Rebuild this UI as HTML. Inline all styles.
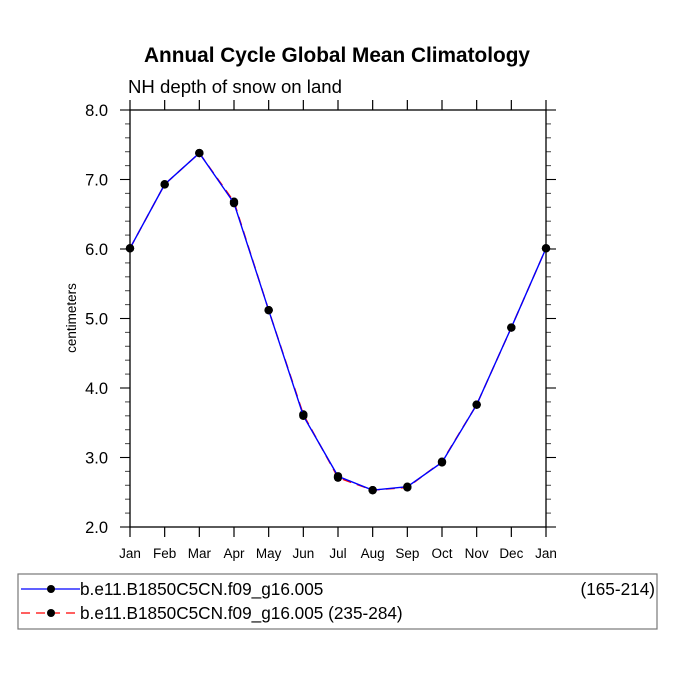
<!DOCTYPE html>
<html><head><meta charset="utf-8"><style>
html,body{margin:0;padding:0;background:#fff;}
svg{display:block;font-family:"Liberation Sans",Arial,sans-serif;}
</style></head><body>
<svg id="c" width="675" height="676" viewBox="0 0 675 676">
<text x="337" y="62" text-anchor="middle" font-size="20.8" font-weight="bold">Annual Cycle Global Mean Climatology</text>
<text x="128" y="93" font-size="18.6">NH depth of snow on land</text>
<text transform="translate(76,318) rotate(-90)" text-anchor="middle" font-size="13.5">centimeters</text>
<g id="ticks"></g>
<g id="series"></g>
<rect x="130" y="110" width="416" height="417" fill="none" stroke="#000" stroke-width="1.3"/>
<g>
<rect x="18" y="574" width="639" height="55" fill="none" stroke="#777" stroke-width="1.2"/>
<line x1="21" y1="589" x2="80" y2="589" stroke="#0000ff" stroke-width="1.3"/>
<circle cx="51" cy="589" r="4" fill="#000"/>
<text x="80" y="595" font-size="17.2">b.e11.B1850C5CN.f09_g16.005</text>
<text x="655" y="595" font-size="17.2" text-anchor="end">(165-214)</text>
<line x1="21" y1="613" x2="80" y2="613" stroke="#ff0000" stroke-width="1.3" stroke-dasharray="9,6"/>
<circle cx="51" cy="613" r="4" fill="#000"/>
<text x="80" y="619" font-size="17.2">b.e11.B1850C5CN.f09_g16.005 (235-284)</text>
</g>
</svg>
<script>
const months=["Jan","Feb","Mar","Apr","May","Jun","Jul","Aug","Sep","Oct","Nov","Dec","Jan"];
const series1=[6.01,6.93,7.38,6.66,5.12,3.60,2.73,2.53,2.58,2.93,3.76,4.87,6.01];
const series2=[6.01,6.93,7.38,6.68,5.12,3.62,2.71,2.53,2.57,2.94,3.76,4.87,6.01];
const yTicks=[2,3,4,5,6,7,8];
const yTickLabels=["2.0","3.0","4.0","5.0","6.0","7.0","8.0"];
const NS="http://www.w3.org/2000/svg";
const xL=130,xR=546,yT=110,yB=527,yMin=2,yMax=8;
const X=i=>xL+(xR-xL)*i/(months.length-1);
const Y=v=>yB-(v-yMin)/(yMax-yMin)*(yB-yT);
function mk(tag,attrs,parent){const e=document.createElementNS(NS,tag);for(const k in attrs)e.setAttribute(k,attrs[k]);parent.appendChild(e);return e;}
const tg=document.getElementById('ticks');
months.forEach((m,i)=>{
  const x=X(i);
  let t=mk('line',{x1:x,y1:yB,x2:x,y2:yB+10,stroke:'#000','stroke-width':1.2},tg);
  
  
  t=mk('line',{x1:x,y1:yT,x2:x,y2:yT-10,stroke:'#000','stroke-width':1.2},tg);
  
  
  const l=mk('text',{x:x,y:558,'text-anchor':'middle','font-size':13.5},tg);
  l.textContent=m;
  
  
});
for(let v=yMin;v<=yMax+1e-9;v+=0.2){
  const y=Y(v);const major=Math.abs(v-Math.round(v))<1e-6;const len=major?10:5;
  let t=mk('line',{x1:xL-len,y1:y,x2:xL,y2:y,stroke:major?'#000':'#555','stroke-width':1.1},tg);
  
  
  t=mk('line',{x1:xR,y1:y,x2:xR+len,y2:y,stroke:major?'#000':'#555','stroke-width':1.1},tg);
  
  
}
yTicks.forEach((v,i)=>{
  const l=mk('text',{x:108,y:Y(v)+6,'text-anchor':'end','font-size':16.5},tg);
  l.textContent=yTickLabels[i];
  
  
});
const sg=document.getElementById('series');
function draw(vals,color,dash,name){
  const p=mk('polyline',{points:vals.map((v,i)=>X(i)+','+Y(v)).join(' '),fill:'none',stroke:color,'stroke-width':1.4},sg);
  if(dash)p.setAttribute('stroke-dasharray',dash);
  
  
  vals.forEach((v,i)=>{
    const c=mk('circle',{cx:X(i),cy:Y(v),r:4.2,fill:'#000'},sg);
    
    
  });
}
draw(series2,'#ff0000','9,6','series-2');
draw(series1,'#0000ff',null,'series-1');
</script>
</body></html>
